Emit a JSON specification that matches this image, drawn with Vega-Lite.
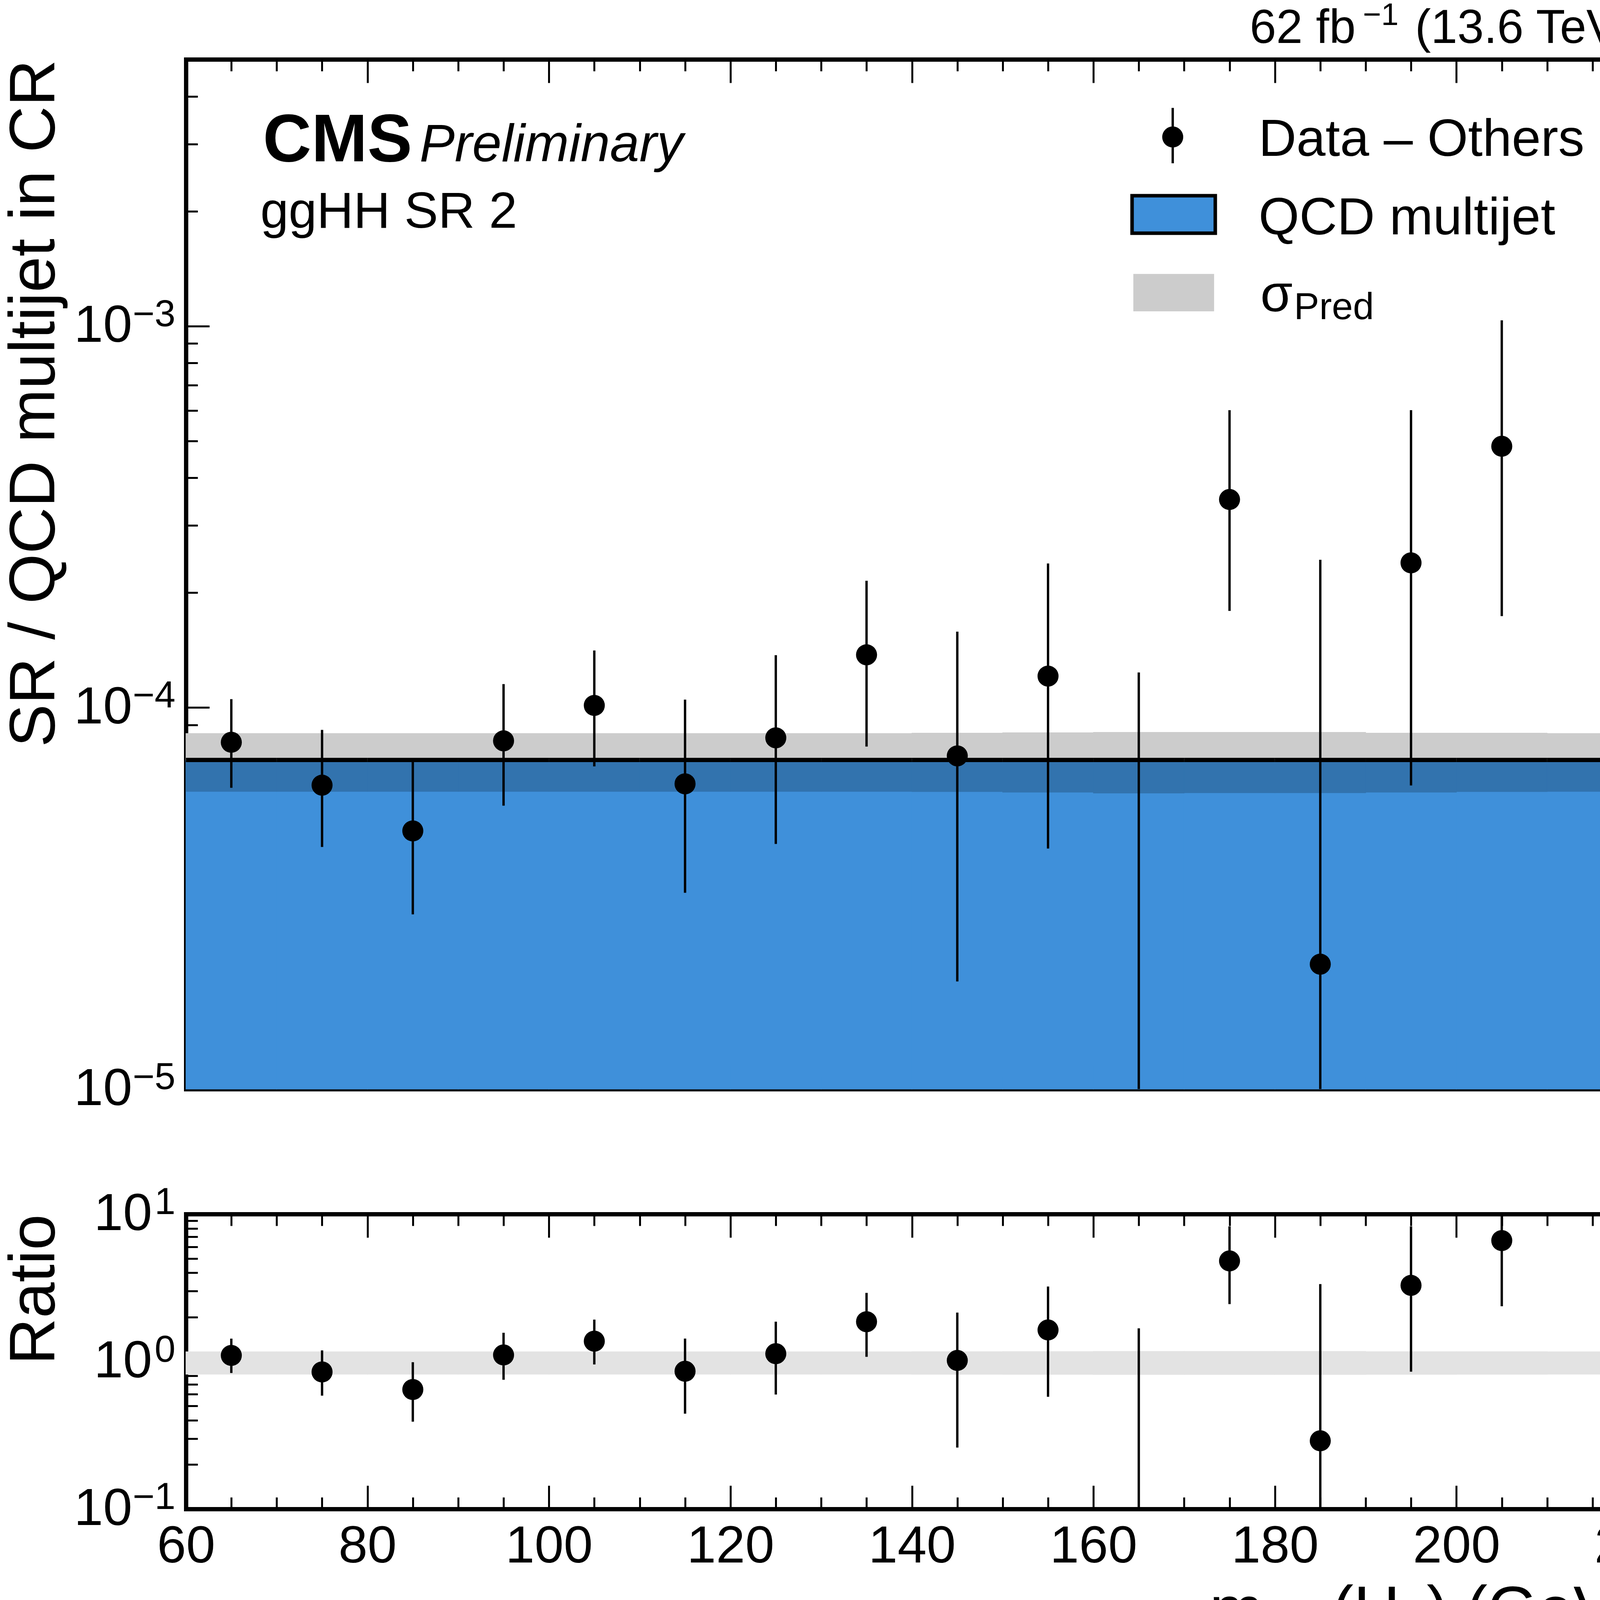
{
  "$schema": "https://vega.github.io/schema/vega-lite/v6.json",
  "background": "white",
  "padding": {"left": 5, "top": 0, "right": 0, "bottom": 0},
  "spacing": 176,
  "config": {
    "font": "Liberation Sans",
    "view": {"stroke": null},
    "axis": {
      "grid": false, "labelColor": "black", "titleColor": "black", "tickColor": "black",
      "domainColor": "black", "labelFont": "Liberation Sans", "titleFont": "Liberation Sans",
      "labelFlush": false, "labelOverlap": false, "labelBound": false, "labelLimit": 0, "zindex": 1,
      "titleFontWeight": "normal"
    }
  },
  "datasets": {
    "qcd": [
      {"lo": 60, "hi": 70, "qcd": 7.29e-5, "up": 8.55e-5, "dn": 6.03e-5},
      {"lo": 70, "hi": 80, "qcd": 7.29e-5, "up": 8.55e-5, "dn": 6.03e-5},
      {"lo": 80, "hi": 90, "qcd": 7.29e-5, "up": 8.55e-5, "dn": 6.03e-5},
      {"lo": 90, "hi": 100, "qcd": 7.29e-5, "up": 8.55e-5, "dn": 6.03e-5},
      {"lo": 100, "hi": 110, "qcd": 7.29e-5, "up": 8.55e-5, "dn": 6.03e-5},
      {"lo": 110, "hi": 120, "qcd": 7.29e-5, "up": 8.55e-5, "dn": 6.03e-5},
      {"lo": 120, "hi": 130, "qcd": 7.29e-5, "up": 8.55e-5, "dn": 6.03e-5},
      {"lo": 130, "hi": 140, "qcd": 7.29e-5, "up": 8.55e-5, "dn": 6.03e-5},
      {"lo": 140, "hi": 150, "qcd": 7.29e-5, "up": 8.57e-5, "dn": 6.02e-5},
      {"lo": 150, "hi": 160, "qcd": 7.29e-5, "up": 8.59e-5, "dn": 6.00e-5},
      {"lo": 160, "hi": 170, "qcd": 7.29e-5, "up": 8.61e-5, "dn": 5.97e-5},
      {"lo": 170, "hi": 180, "qcd": 7.29e-5, "up": 8.61e-5, "dn": 5.98e-5},
      {"lo": 180, "hi": 190, "qcd": 7.29e-5, "up": 8.61e-5, "dn": 5.98e-5},
      {"lo": 190, "hi": 200, "qcd": 7.29e-5, "up": 8.57e-5, "dn": 6.00e-5},
      {"lo": 200, "hi": 210, "qcd": 7.29e-5, "up": 8.57e-5, "dn": 6.02e-5},
      {"lo": 210, "hi": 220, "qcd": 7.29e-5, "up": 8.55e-5, "dn": 6.03e-5}
    ],
    "pts": [
      {"x": 65, "y": 8.11e-5, "lo": 6.16e-5, "hi": 1.052e-4},
      {"x": 75, "y": 6.26e-5, "lo": 4.31e-5, "hi": 8.74e-5},
      {"x": 85, "y": 4.75e-5, "lo": 2.87e-5, "hi": 7.25e-5},
      {"x": 95, "y": 8.18e-5, "lo": 5.53e-5, "hi": 1.152e-4},
      {"x": 105, "y": 1.013e-4, "lo": 7.01e-5, "hi": 1.411e-4},
      {"x": 115, "y": 6.31e-5, "lo": 3.27e-5, "hi": 1.049e-4},
      {"x": 125, "y": 8.33e-5, "lo": 4.39e-5, "hi": 1.372e-4},
      {"x": 135, "y": 1.375e-4, "lo": 7.90e-5, "hi": 2.150e-4},
      {"x": 145, "y": 7.47e-5, "lo": 1.915e-5, "hi": 1.581e-4},
      {"x": 155, "y": 1.209e-4, "lo": 4.27e-5, "hi": 2.386e-4},
      {"x": 165, "y": null, "lo": 1e-5, "hi": 1.236e-4},
      {"x": 175, "y": 3.51e-4, "lo": 1.792e-4, "hi": 6.02e-4},
      {"x": 185, "y": 2.125e-5, "lo": 1e-5, "hi": 2.44e-4},
      {"x": 195, "y": 2.395e-4, "lo": 6.25e-5, "hi": 6.02e-4},
      {"x": 205, "y": 4.84e-4, "lo": 1.737e-4, "hi": 1.035e-3}
    ],
    "rband": [
      {"lo": 60, "hi": 70, "up": 1.165, "dn": 0.82},
      {"lo": 70, "hi": 80, "up": 1.165, "dn": 0.82},
      {"lo": 80, "hi": 90, "up": 1.165, "dn": 0.82},
      {"lo": 90, "hi": 100, "up": 1.165, "dn": 0.82},
      {"lo": 100, "hi": 110, "up": 1.165, "dn": 0.82},
      {"lo": 110, "hi": 120, "up": 1.165, "dn": 0.82},
      {"lo": 120, "hi": 130, "up": 1.165, "dn": 0.82},
      {"lo": 130, "hi": 140, "up": 1.165, "dn": 0.82},
      {"lo": 140, "hi": 150, "up": 1.167, "dn": 0.819},
      {"lo": 150, "hi": 160, "up": 1.169, "dn": 0.818},
      {"lo": 160, "hi": 170, "up": 1.172, "dn": 0.816},
      {"lo": 170, "hi": 180, "up": 1.171, "dn": 0.817},
      {"lo": 180, "hi": 190, "up": 1.171, "dn": 0.817},
      {"lo": 190, "hi": 200, "up": 1.167, "dn": 0.818},
      {"lo": 200, "hi": 210, "up": 1.167, "dn": 0.819},
      {"lo": 210, "hi": 220, "up": 1.165, "dn": 0.82}
    ],
    "ratio": [
      {"x": 65, "r": 1.10, "lo": 0.836, "hi": 1.43},
      {"x": 75, "r": 0.85, "lo": 0.587, "hi": 1.19},
      {"x": 85, "r": 0.646, "lo": 0.391, "hi": 0.99},
      {"x": 95, "r": 1.108, "lo": 0.752, "hi": 1.567},
      {"x": 105, "r": 1.374, "lo": 0.955, "hi": 1.924},
      {"x": 115, "r": 0.859, "lo": 0.443, "hi": 1.43},
      {"x": 125, "r": 1.13, "lo": 0.597, "hi": 1.862},
      {"x": 135, "r": 1.862, "lo": 1.076, "hi": 2.92},
      {"x": 145, "r": 1.017, "lo": 0.261, "hi": 2.147},
      {"x": 155, "r": 1.637, "lo": 0.577, "hi": 3.226},
      {"x": 165, "r": null, "lo": 0.1, "hi": 1.68},
      {"x": 175, "r": 4.81, "lo": 2.45, "hi": 8.25},
      {"x": 185, "r": 0.29, "lo": 0.1, "hi": 3.35},
      {"x": 195, "r": 3.285, "lo": 0.853, "hi": 8.25},
      {"x": 205, "r": 6.61, "lo": 2.37, "hi": 14.2}
    ]
  },
  "vconcat": [
    {
      "width": 3717,
      "height": 2636,
      "resolve": {"axis": {"x": "independent", "y": "independent"}},
      "layer": [
        {
          "data": {"name": "qcd"},
          "mark": {"type": "rect", "fill": "#3f90da", "stroke": "#3f90da", "strokeWidth": 1.5},
          "encoding": {
            "x": {"field": "lo", "type": "quantitative", "scale": {"domain": [60, 220], "nice": false, "zero": false},
              "axis": {"orient": "bottom", "labels": false, "ticks": false, "tickSize": 0, "domain": true, "domainWidth": 11, "domainCap": "square", "title": null}},
            "x2": {"field": "hi"},
            "y": {"field": "qcd", "type": "quantitative", "scale": {"type": "log", "domain": [1e-5, 5e-3], "nice": false},
              "axis": {"orient": "left", "values": [1e-5, 1e-4, 1e-3], "labelExpr": "'10'", "labelFontSize": 134, "labelPadding": 138, "ticks": false, "tickSize": 0, "domain": true, "domainWidth": 11, "domainCap": "square", "title": "SR / QCD multijet in CR", "titleFontSize": 165, "titleAnchor": "end", "titleX": -338, "titleBaseline": "alphabetic"}},
            "y2": {"datum": 1e-5}
          }
        },
        {
          "data": {"name": "qcd"},
          "mark": {"type": "rect", "fill": "#3273ae", "stroke": "#3273ae", "strokeWidth": 1.5},
          "encoding": {
            "x": {"field": "lo", "type": "quantitative", "scale": {"domain": [60, 220], "nice": false, "zero": false},
              "axis": {"orient": "bottom", "values": [60, 80, 100, 120, 140, 160, 180, 200, 220], "labels": false, "tickSize": -60, "tickWidth": 5, "domain": false, "title": null}},
            "x2": {"field": "hi"},
            "y": {"field": "qcd", "type": "quantitative", "scale": {"type": "log", "domain": [1e-5, 5e-3], "nice": false},
              "axis": {"orient": "left", "values": [1e-5, 1e-4, 1e-3], "labels": false, "tickSize": -60, "tickWidth": 5, "domain": false, "title": null}},
            "y2": {"field": "dn"}
          }
        },
        {
          "data": {"name": "qcd"},
          "mark": {"type": "rect", "fill": "#cccccc", "stroke": "#cccccc", "strokeWidth": 1.5},
          "encoding": {
            "x": {"field": "lo", "type": "quantitative", "scale": {"domain": [60, 220], "nice": false, "zero": false},
              "axis": {"orient": "bottom", "values": [65, 70, 75, 85, 90, 95, 105, 110, 115, 125, 130, 135, 145, 150, 155, 165, 170, 175, 185, 190, 195, 205, 210, 215], "labels": false, "tickSize": -30, "tickWidth": 5, "domain": false, "title": null}},
            "x2": {"field": "hi"},
            "y": {"field": "up", "type": "quantitative", "scale": {"type": "log", "domain": [1e-5, 5e-3], "nice": false},
              "axis": {"orient": "left", "values": [2e-5, 3e-5, 4e-5, 5e-5, 6e-5, 7e-5, 8e-5, 9e-5, 2e-4, 3e-4, 4e-4, 5e-4, 6e-4, 7e-4, 8e-4, 9e-4, 2e-3, 3e-3, 4e-3], "labels": false, "tickSize": -30, "tickWidth": 5, "domain": false, "title": null}},
            "y2": {"field": "qcd"}
          }
        },
        {
          "data": {"name": "qcd"},
          "mark": {"type": "rule", "color": "black", "strokeWidth": 11},
          "encoding": {
            "x": {"field": "lo", "type": "quantitative", "scale": {"domain": [60, 220], "nice": false, "zero": false},
              "axis": {"orient": "top", "values": [60, 80, 100, 120, 140, 160, 180, 200, 220], "labels": false, "tickSize": -60, "tickWidth": 5, "domain": true, "domainWidth": 11, "domainCap": "square", "title": null}},
            "x2": {"field": "hi"},
            "y": {"field": "qcd", "type": "quantitative", "scale": {"type": "log", "domain": [1e-5, 5e-3], "nice": false},
              "axis": {"orient": "right", "values": [1e-5, 1e-4, 1e-3], "labels": false, "tickSize": -60, "tickWidth": 5, "domain": true, "domainWidth": 11, "domainCap": "square", "title": null}}
          }
        },
        {
          "data": {"name": "pts"},
          "mark": {"type": "rule", "color": "black", "strokeWidth": 6},
          "encoding": {
            "x": {"field": "x", "type": "quantitative", "scale": {"domain": [60, 220], "nice": false, "zero": false},
              "axis": {"orient": "top", "values": [65, 70, 75, 85, 90, 95, 105, 110, 115, 125, 130, 135, 145, 150, 155, 165, 170, 175, 185, 190, 195, 205, 210, 215], "labels": false, "tickSize": -30, "tickWidth": 5, "domain": false, "title": null}},
            "y": {"field": "lo", "type": "quantitative", "scale": {"type": "log", "domain": [1e-5, 5e-3], "nice": false},
              "axis": {"orient": "right", "values": [2e-5, 3e-5, 4e-5, 5e-5, 6e-5, 7e-5, 8e-5, 9e-5, 2e-4, 3e-4, 4e-4, 5e-4, 6e-4, 7e-4, 8e-4, 9e-4, 2e-3, 3e-3, 4e-3], "labels": false, "tickSize": -30, "tickWidth": 5, "domain": false, "title": null}},
            "y2": {"field": "hi"}
          }
        },
        {
          "data": {"name": "pts"},
          "mark": {"type": "point", "filled": true, "color": "black", "opacity": 1, "size": 2900},
          "encoding": {
            "x": {"field": "x", "type": "quantitative", "scale": {"domain": [60, 220], "nice": false, "zero": false}, "axis": null},
            "y": {"field": "y", "type": "quantitative", "scale": {"type": "log", "domain": [1e-5, 5e-3], "nice": false}, "axis": null}
          }
        },
        {
          "data": {"values": [{}]},
          "mark": {"type": "text", "text": "−5", "fontSize": 96, "align": "right", "baseline": "alphabetic", "color": "black"},
          "encoding": {
            "x": {"datum": 58.84, "type": "quantitative", "scale": {"domain": [60, 220], "nice": false, "zero": false}, "axis": null},
            "y": {"datum": 1e-5, "type": "quantitative", "scale": {"type": "log", "domain": [1e-5, 5e-3], "nice": false}, "axis": null}
          }
        },
        {
          "data": {"values": [{}]},
          "mark": {"type": "text", "text": "−4", "fontSize": 96, "align": "right", "baseline": "alphabetic", "color": "black"},
          "encoding": {
            "x": {"datum": 58.84, "type": "quantitative", "scale": {"domain": [60, 220], "nice": false, "zero": false}, "axis": null},
            "y": {"datum": 1e-4, "type": "quantitative", "scale": {"type": "log", "domain": [1e-5, 5e-3], "nice": false}, "axis": null}
          }
        },
        {
          "data": {"values": [{}]},
          "mark": {"type": "text", "text": "−3", "fontSize": 96, "align": "right", "baseline": "alphabetic", "color": "black"},
          "encoding": {
            "x": {"datum": 58.84, "type": "quantitative", "scale": {"domain": [60, 220], "nice": false, "zero": false}, "axis": null},
            "y": {"datum": 1e-3, "type": "quantitative", "scale": {"type": "log", "domain": [1e-5, 5e-3], "nice": false}, "axis": null}
          }
        },
        {
          "data": {"values": [{}]},
          "mark": {"type": "rule", "color": "black", "strokeWidth": 6},
          "encoding": {
            "x": {"datum": 168.74, "type": "quantitative", "scale": {"domain": [60, 220], "nice": false, "zero": false}, "axis": null},
            "y": {"datum": 3.73e-3, "type": "quantitative", "scale": {"type": "log", "domain": [1e-5, 5e-3], "nice": false}, "axis": null},
            "y2": {"datum": 2.67e-3}
          }
        },
        {
          "data": {"values": [{}]},
          "mark": {"type": "point", "filled": true, "color": "black", "opacity": 1, "size": 2900},
          "encoding": {
            "x": {"datum": 168.74, "type": "quantitative", "scale": {"domain": [60, 220], "nice": false, "zero": false}, "axis": null},
            "y": {"datum": 3.13e-3, "type": "quantitative", "scale": {"type": "log", "domain": [1e-5, 5e-3], "nice": false}, "axis": null}
          }
        },
        {
          "data": {"values": [{}]},
          "mark": {"type": "rect", "fill": "#3f90da", "stroke": "black", "strokeWidth": 9},
          "encoding": {
            "x": {"datum": 164.26, "type": "quantitative", "scale": {"domain": [60, 220], "nice": false, "zero": false}, "axis": null},
            "x2": {"datum": 173.43},
            "y": {"datum": 2.196e-3, "type": "quantitative", "scale": {"type": "log", "domain": [1e-5, 5e-3], "nice": false}, "axis": null},
            "y2": {"datum": 1.751e-3}
          }
        },
        {
          "data": {"values": [{}]},
          "mark": {"type": "rect", "fill": "#cccccc"},
          "encoding": {
            "x": {"datum": 164.4, "type": "quantitative", "scale": {"domain": [60, 220], "nice": false, "zero": false}, "axis": null},
            "x2": {"datum": 173.3},
            "y": {"datum": 1.37e-3, "type": "quantitative", "scale": {"type": "log", "domain": [1e-5, 5e-3], "nice": false}, "axis": null},
            "y2": {"datum": 1.093e-3}
          }
        },
        {
          "data": {"values": [{}]},
          "mark": {"type": "text", "text": "CMS", "fontWeight": "bold", "fontSize": 172, "align": "left", "baseline": "alphabetic", "color": "black"},
          "encoding": {
            "x": {"datum": 68.48, "type": "quantitative", "scale": {"domain": [60, 220], "nice": false, "zero": false}, "axis": null},
            "y": {"datum": 2.70e-3, "type": "quantitative", "scale": {"type": "log", "domain": [1e-5, 5e-3], "nice": false}, "axis": null}
          }
        },
        {
          "data": {"values": [{}]},
          "mark": {"type": "text", "text": "Preliminary", "fontStyle": "italic", "fontSize": 135, "align": "left", "baseline": "alphabetic", "color": "black"},
          "encoding": {
            "x": {"datum": 85.74, "type": "quantitative", "scale": {"domain": [60, 220], "nice": false, "zero": false}, "axis": null},
            "y": {"datum": 2.70e-3, "type": "quantitative", "scale": {"type": "log", "domain": [1e-5, 5e-3], "nice": false}, "axis": null}
          }
        },
        {
          "data": {"values": [{}]},
          "mark": {"type": "text", "text": "ggHH SR 2", "fontSize": 130, "align": "left", "baseline": "alphabetic", "color": "black"},
          "encoding": {
            "x": {"datum": 68.2, "type": "quantitative", "scale": {"domain": [60, 220], "nice": false, "zero": false}, "axis": null},
            "y": {"datum": 1.81e-3, "type": "quantitative", "scale": {"type": "log", "domain": [1e-5, 5e-3], "nice": false}, "axis": null}
          }
        },
        {
          "data": {"values": [{}]},
          "mark": {"type": "text", "text": "Data – Others", "fontSize": 134, "align": "left", "baseline": "alphabetic", "color": "black"},
          "encoding": {
            "x": {"datum": 178.2, "type": "quantitative", "scale": {"domain": [60, 220], "nice": false, "zero": false}, "axis": null},
            "y": {"datum": 2.79e-3, "type": "quantitative", "scale": {"type": "log", "domain": [1e-5, 5e-3], "nice": false}, "axis": null}
          }
        },
        {
          "data": {"values": [{}]},
          "mark": {"type": "text", "text": "QCD multijet", "fontSize": 134, "align": "left", "baseline": "alphabetic", "color": "black"},
          "encoding": {
            "x": {"datum": 178.2, "type": "quantitative", "scale": {"domain": [60, 220], "nice": false, "zero": false}, "axis": null},
            "y": {"datum": 1.739e-3, "type": "quantitative", "scale": {"type": "log", "domain": [1e-5, 5e-3], "nice": false}, "axis": null}
          }
        },
        {
          "data": {"values": [{}]},
          "mark": {"type": "text", "text": "σ", "fontSize": 134, "align": "left", "baseline": "alphabetic", "color": "black"},
          "encoding": {
            "x": {"datum": 178.4, "type": "quantitative", "scale": {"domain": [60, 220], "nice": false, "zero": false}, "axis": null},
            "y": {"datum": 1.093e-3, "type": "quantitative", "scale": {"type": "log", "domain": [1e-5, 5e-3], "nice": false}, "axis": null}
          }
        },
        {
          "data": {"values": [{}]},
          "mark": {"type": "text", "text": "Pred", "fontSize": 97, "align": "left", "baseline": "alphabetic", "color": "black"},
          "encoding": {
            "x": {"datum": 182.1, "type": "quantitative", "scale": {"domain": [60, 220], "nice": false, "zero": false}, "axis": null},
            "y": {"datum": 1.043e-3, "type": "quantitative", "scale": {"type": "log", "domain": [1e-5, 5e-3], "nice": false}, "axis": null}
          }
        },
        {
          "data": {"values": [{}]},
          "mark": {"type": "text", "text": "62 fb", "fontSize": 122, "align": "right", "baseline": "alphabetic", "color": "black"},
          "encoding": {
            "x": {"datum": 188.9, "type": "quantitative", "scale": {"domain": [60, 220], "nice": false, "zero": false}, "axis": null},
            "y": {"datum": 5.52e-3, "type": "quantitative", "scale": {"type": "log", "domain": [1e-5, 5e-3], "nice": false}, "axis": null}
          }
        },
        {
          "data": {"values": [{}]},
          "mark": {"type": "text", "text": "−1", "fontSize": 80, "align": "left", "baseline": "alphabetic", "color": "black"},
          "encoding": {
            "x": {"datum": 189.7, "type": "quantitative", "scale": {"domain": [60, 220], "nice": false, "zero": false}, "axis": null},
            "y": {"datum": 6.15e-3, "type": "quantitative", "scale": {"type": "log", "domain": [1e-5, 5e-3], "nice": false}, "axis": null}
          }
        },
        {
          "data": {"values": [{}]},
          "mark": {"type": "text", "text": "(13.6 TeV)", "fontSize": 122, "align": "right", "baseline": "alphabetic", "color": "black"},
          "encoding": {
            "x": {"datum": 219.57, "type": "quantitative", "scale": {"domain": [60, 220], "nice": false, "zero": false}, "axis": null},
            "y": {"datum": 5.52e-3, "type": "quantitative", "scale": {"type": "log", "domain": [1e-5, 5e-3], "nice": false}, "axis": null}
          }
        }
      ]
    },
    {
      "width": 3717,
      "height": 755,
      "resolve": {"axis": {"x": "independent", "y": "independent"}},
      "layer": [
        {
          "data": {"name": "rband"},
          "mark": {"type": "rect", "fill": "#e3e3e3", "stroke": "#e3e3e3", "strokeWidth": 1.5},
          "encoding": {
            "x": {"field": "lo", "type": "quantitative", "scale": {"domain": [60, 220], "nice": false, "zero": false},
              "axis": {"orient": "bottom", "values": [60, 80, 100, 120, 140, 160, 180, 200, 220], "labelFontSize": 134, "labelPadding": 30, "ticks": false, "tickSize": 0, "domain": true, "domainWidth": 11, "domainCap": "square", "title": null}},
            "x2": {"field": "hi"},
            "y": {"field": "up", "type": "quantitative", "scale": {"type": "log", "domain": [0.1, 10], "nice": false},
              "axis": {"orient": "left", "values": [1, 10], "labelExpr": "'10'", "labelFontSize": 134, "labelPadding": 87, "ticks": false, "tickSize": 0, "domain": true, "domainWidth": 11, "domainCap": "square", "title": "Ratio", "titleFontSize": 165, "titleAnchor": "end", "titleX": -338, "titleBaseline": "alphabetic"}},
            "y2": {"field": "dn"}
          }
        },
        {
          "data": {"name": "ratio"},
          "mark": {"type": "rule", "color": "black", "strokeWidth": 6, "clip": true},
          "encoding": {
            "x": {"field": "x", "type": "quantitative", "scale": {"domain": [60, 220], "nice": false, "zero": false},
              "axis": {"orient": "bottom", "values": [60, 80, 100, 120, 140, 160, 180, 200, 220], "labels": false, "tickSize": -60, "tickWidth": 5, "domain": false, "title": null}},
            "y": {"field": "lo", "type": "quantitative", "scale": {"type": "log", "domain": [0.1, 10], "nice": false},
              "axis": {"orient": "left", "values": [0.1, 1, 10], "labels": false, "tickSize": -60, "tickWidth": 5, "domain": false, "title": null}},
            "y2": {"field": "hi"}
          }
        },
        {
          "data": {"name": "ratio"},
          "mark": {"type": "point", "filled": true, "color": "black", "opacity": 1, "size": 2900},
          "encoding": {
            "x": {"field": "x", "type": "quantitative", "scale": {"domain": [60, 220], "nice": false, "zero": false},
              "axis": {"orient": "bottom", "values": [65, 70, 75, 85, 90, 95, 105, 110, 115, 125, 130, 135, 145, 150, 155, 165, 170, 175, 185, 190, 195, 205, 210, 215], "labels": false, "tickSize": -30, "tickWidth": 5, "domain": false, "title": null}},
            "y": {"field": "r", "type": "quantitative", "scale": {"type": "log", "domain": [0.1, 10], "nice": false},
              "axis": {"orient": "left", "values": [0.2, 0.3, 0.4, 0.5, 0.6, 0.7, 0.8, 0.9, 2, 3, 4, 5, 6, 7, 8, 9], "labels": false, "tickSize": -30, "tickWidth": 5, "domain": false, "title": null}}
          }
        },
        {
          "data": {"values": [{}]},
          "mark": {"type": "text", "text": "m", "fontSize": 165, "align": "left", "baseline": "alphabetic", "color": "black"},
          "encoding": {
            "x": {"datum": 172.79, "type": "quantitative", "scale": {"domain": [60, 220], "nice": false, "zero": false},
              "axis": {"orient": "top", "values": [60, 80, 100, 120, 140, 160, 180, 200, 220], "labels": false, "tickSize": -60, "tickWidth": 5, "domain": true, "domainWidth": 11, "domainCap": "square", "title": null}},
            "y": {"datum": 0.01486, "type": "quantitative", "scale": {"type": "log", "domain": [0.1, 10], "nice": false},
              "axis": {"orient": "right", "values": [0.1, 1, 10], "labels": false, "tickSize": -60, "tickWidth": 5, "domain": true, "domainWidth": 11, "domainCap": "square", "title": null}}
          }
        },
        {
          "data": {"values": [{}]},
          "mark": {"type": "text", "text": "reg", "fontSize": 110, "align": "left", "baseline": "alphabetic", "color": "black"},
          "encoding": {
            "x": {"datum": 178.64, "type": "quantitative", "scale": {"domain": [60, 220], "nice": false, "zero": false},
              "axis": {"orient": "top", "values": [65, 70, 75, 85, 90, 95, 105, 110, 115, 125, 130, 135, 145, 150, 155, 165, 170, 175, 185, 190, 195, 205, 210, 215], "labels": false, "tickSize": -30, "tickWidth": 5, "domain": false, "title": null}},
            "y": {"datum": 0.01268, "type": "quantitative", "scale": {"type": "log", "domain": [0.1, 10], "nice": false},
              "axis": {"orient": "right", "values": [0.2, 0.3, 0.4, 0.5, 0.6, 0.7, 0.8, 0.9, 2, 3, 4, 5, 6, 7, 8, 9], "labels": false, "tickSize": -30, "tickWidth": 5, "domain": false, "title": null}}
          }
        },
        {
          "data": {"values": [{}]},
          "mark": {"type": "text", "text": "(H", "fontSize": 165, "align": "left", "baseline": "alphabetic", "color": "black"},
          "encoding": {
            "x": {"datum": 186.3, "type": "quantitative", "scale": {"domain": [60, 220], "nice": false, "zero": false}, "axis": null},
            "y": {"datum": 0.01486, "type": "quantitative", "scale": {"type": "log", "domain": [0.1, 10], "nice": false},
              "axis": {"orient": "left", "values": [0.1], "labelExpr": "'10'", "labelFontSize": 134, "labelPadding": 138, "ticks": false, "tickSize": 0, "domain": false, "title": null}}
          }
        },
        {
          "data": {"values": [{}]},
          "mark": {"type": "text", "text": "2", "fontSize": 110, "align": "left", "baseline": "alphabetic", "color": "black"},
          "encoding": {
            "x": {"datum": 193.7, "type": "quantitative", "scale": {"domain": [60, 220], "nice": false, "zero": false}, "axis": null},
            "y": {"datum": 0.01268, "type": "quantitative", "scale": {"type": "log", "domain": [0.1, 10], "nice": false}, "axis": null}
          }
        },
        {
          "data": {"values": [{}]},
          "mark": {"type": "text", "text": ") (GeV)", "fontSize": 165, "align": "left", "baseline": "alphabetic", "color": "black"},
          "encoding": {
            "x": {"datum": 196.72, "type": "quantitative", "scale": {"domain": [60, 220], "nice": false, "zero": false}, "axis": null},
            "y": {"datum": 0.01486, "type": "quantitative", "scale": {"type": "log", "domain": [0.1, 10], "nice": false}, "axis": null}
          }
        },
        {
          "data": {"values": [{}]},
          "mark": {"type": "text", "text": "−1", "fontSize": 96, "align": "right", "baseline": "alphabetic", "color": "black"},
          "encoding": {
            "x": {"datum": 58.84, "type": "quantitative", "scale": {"domain": [60, 220], "nice": false, "zero": false}, "axis": null},
            "y": {"datum": 0.1, "type": "quantitative", "scale": {"type": "log", "domain": [0.1, 10], "nice": false}, "axis": null}
          }
        },
        {
          "data": {"values": [{}]},
          "mark": {"type": "text", "text": "0", "fontSize": 96, "align": "right", "baseline": "alphabetic", "color": "black"},
          "encoding": {
            "x": {"datum": 58.84, "type": "quantitative", "scale": {"domain": [60, 220], "nice": false, "zero": false}, "axis": null},
            "y": {"datum": 1, "type": "quantitative", "scale": {"type": "log", "domain": [0.1, 10], "nice": false}, "axis": null}
          }
        },
        {
          "data": {"values": [{}]},
          "mark": {"type": "text", "text": "1", "fontSize": 96, "align": "right", "baseline": "alphabetic", "color": "black"},
          "encoding": {
            "x": {"datum": 58.84, "type": "quantitative", "scale": {"domain": [60, 220], "nice": false, "zero": false}, "axis": null},
            "y": {"datum": 10, "type": "quantitative", "scale": {"type": "log", "domain": [0.1, 10], "nice": false}, "axis": null}
          }
        }
      ]
    }
  ]
}
